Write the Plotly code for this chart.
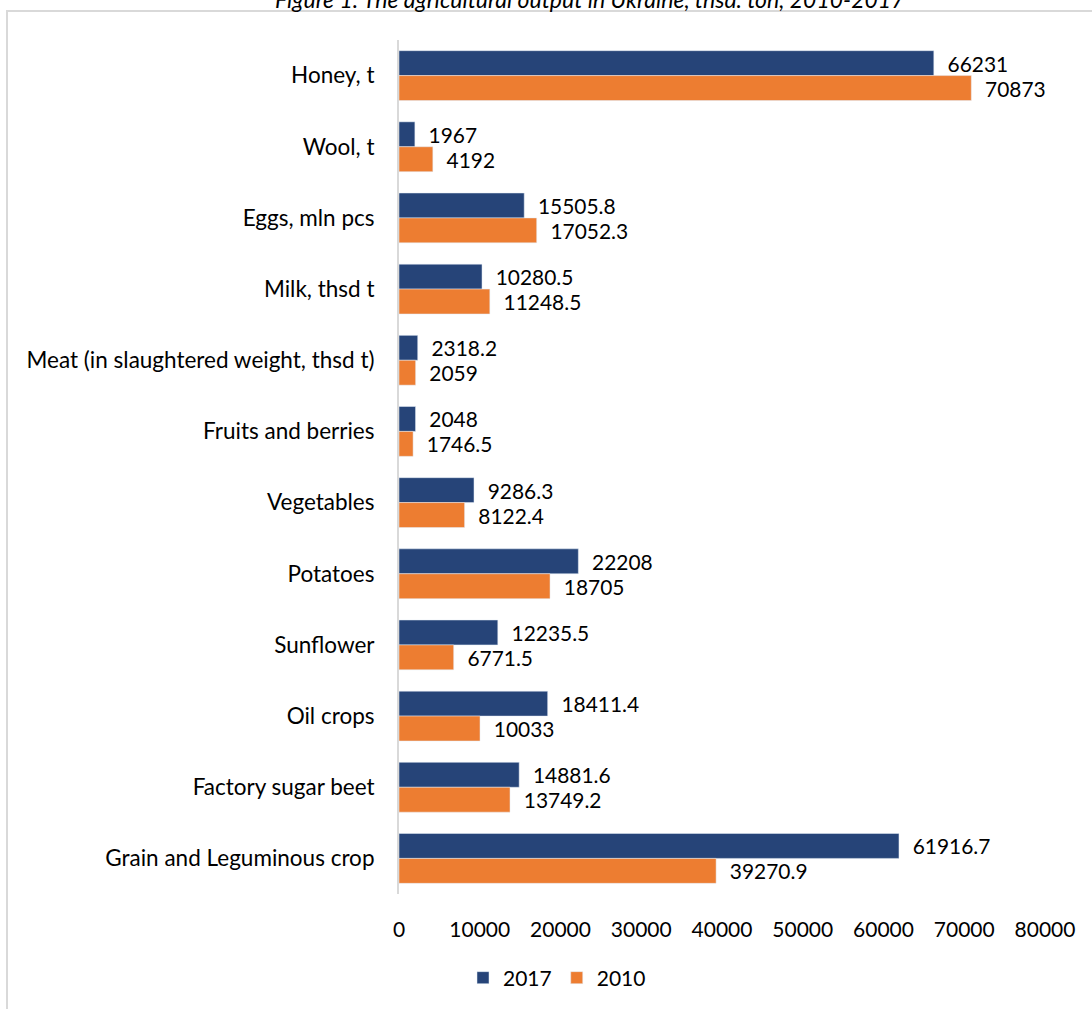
import plotly.graph_objects as go

categories = ["Honey, t", "Wool, t", "Eggs, mln pcs", "Milk, thsd t",
              "Meat (in slaughtered weight, thsd t)", "Fruits and berries",
              "Vegetables", "Potatoes", "Sunflower", "Oil crops",
              "Factory sugar beet", "Grain and Leguminous crop"]
values_2017 = [66231, 1967, 15505.8, 10280.5, 2318.2, 2048, 9286.3, 22208,
               12235.5, 18411.4, 14881.6, 61916.7]
values_2010 = [70873, 4192, 17052.3, 11248.5, 2059, 1746.5, 8122.4, 18705,
               6771.5, 10033, 13749.2, 39270.9]
x_ticks = [0, 10000, 20000, 30000, 40000, 50000, 60000, 70000, 80000]
title_text = "Figure 1. The agricultural output in Ukraine, thsd. ton, 2010-2017"

FONT = "Lato"
L, R, T, B = 399, 47, 40, 115
W, H = 1092, 1009
PW, PH = W - L - R, H - T - B


def px(x):
    return (x - L) / PW


def py(y):
    return 1 - (y - T) / PH


def fmt(v):
    return ("%g" % v)


fig = go.Figure()
fig.add_trace(go.Bar(
    y=categories, x=values_2017, name="2017", orientation="h",
    marker=dict(color="#264478"),
    text=["  " + fmt(v) for v in values_2017], textposition="outside",
    textfont=dict(family=FONT, size=21, color="#000000"), cliponaxis=False,
))
fig.add_trace(go.Bar(
    y=categories, x=values_2010, name="2010", orientation="h",
    marker=dict(color="#ED7D31"),
    text=["  " + fmt(v) for v in values_2010], textposition="outside",
    textfont=dict(family=FONT, size=21, color="#000000"), cliponaxis=False,
))

fig.update_layout(
    width=W, height=H,
    margin=dict(l=L, r=R, t=T, b=B, autoexpand=False),
    paper_bgcolor="white", plot_bgcolor="white",
    barmode="group", bargap=0.3, bargroupgap=0,
    font=dict(family=FONT, size=21, color="#000000"),
    showlegend=True,
    legend=dict(orientation="h", x=px(557), y=py(978), xanchor="center",
                yanchor="middle", font=dict(family=FONT, size=21),
                itemwidth=30, tracegroupgap=0),
    xaxis=dict(range=[0, 80000], tickvals=x_ticks,
               ticktext=[str(t) for t in x_ticks], showgrid=False,
               zeroline=False, showline=False, ticks="outside",
               ticklen=17, tickcolor="rgba(0,0,0,0)",
               tickfont=dict(family=FONT, size=21)),
    yaxis=dict(autorange="reversed", showgrid=False, zeroline=False,
               showline=True, linecolor="#d9d9d9", linewidth=2,
               ticks="outside", ticklen=18, tickcolor="rgba(0,0,0,0)",
               tickfont=dict(family=FONT, size=22.5)),
    shapes=[dict(type="rect", xref="paper", yref="paper",
                 x0=px(7), x1=px(1100), y0=py(1020), y1=py(11),
                 line=dict(color="#d9d9d9", width=2), layer="below")],
    annotations=[dict(text="<i>" + title_text + "</i>", xref="paper",
                      yref="paper", x=px(590), y=py(-1), xanchor="center",
                      yanchor="middle", showarrow=False,
                      font=dict(family=FONT, size=23, color="#000000"))],
)

fig.write_html("out.html")
